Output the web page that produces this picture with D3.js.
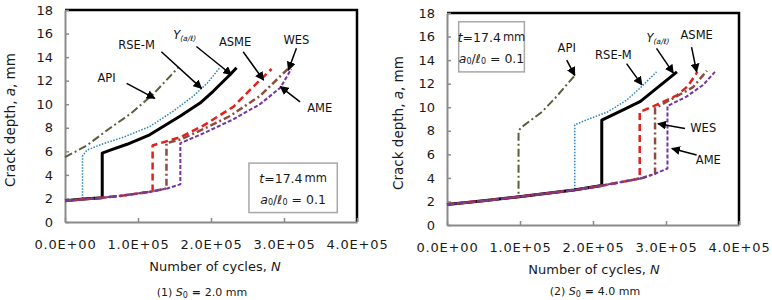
<html>
<script src="https://d3js.org/d3.v7.min.js"></script>
<body style="margin:0;background:#fff">
</body>
<script>
// axis ticks
const xTicks = [0, 1e5, 2e5, 3e5, 4e5];
const xTickLabels = ["0.0E+00", "1.0E+05", "2.0E+05", "3.0E+05", "4.0E+05"];
const yTicks = [0, 2, 4, 6, 8, 10, 12, 14, 16, 18];

const seriesNames = ["API", "RSE-M", "Y", "ASME", "WES", "AME"];

// (1) S0 = 2.0 mm  -- [N, a]
const left_API  = [[0, 5.5], [0.3e5, 6.5], [0.6e5, 7.9], [0.9e5, 9.2], [1.2e5, 10.8], [1.55e5, 13.1]];
const left_RSEM = [[0, 1.8], [0.24e5, 1.95], [0.24e5, 5.6], [0.3e5, 6.1], [0.5e5, 6.6], [0.8e5, 7.2], [1.16e5, 8.1], [1.48e5, 9.4], [1.76e5, 10.7], [1.95e5, 11.8], [2.12e5, 13.1]];
const left_Y    = [[0, 1.8], [0.25e5, 1.95], [0.51e5, 2.05], [0.51e5, 5.85], [0.62e5, 6.1], [0.85e5, 6.6], [1.16e5, 7.4], [1.58e5, 9.0], [1.85e5, 10.1], [2.03e5, 11.1], [2.26e5, 12.5], [2.35e5, 13.1]];
const left_ASME = [[0, 1.8], [0.5e5, 2.05], [0.8e5, 2.25], [1.2e5, 2.6], [1.2e5, 6.5], [1.58e5, 7.2], [1.9e5, 8.2], [2.31e5, 9.8], [2.58e5, 11.5], [2.83e5, 13.0]];
const left_WES  = [[0, 1.8], [0.5e5, 2.05], [0.8e5, 2.25], [1.2e5, 2.6], [1.39e5, 2.85], [1.39e5, 6.7], [1.58e5, 7.0], [1.9e5, 7.9], [2.26e5, 9.0], [2.67e5, 10.7], [3.07e5, 13.1]];
const left_AME  = [[0, 1.8], [0.5e5, 2.05], [0.8e5, 2.25], [1.2e5, 2.6], [1.4e5, 2.85], [1.58e5, 3.2], [1.58e5, 6.7], [1.85e5, 7.4], [2.3e5, 8.7], [2.67e5, 10.0], [2.95e5, 11.4], [3.1e5, 13.0]];

// (2) S0 = 4.0 mm
const right_API  = [[0, 1.75], [0.5e5, 2.05], [0.98e5, 2.4], [0.98e5, 8.0], [1.02e5, 8.3], [1.3e5, 9.6], [1.5e5, 10.9], [1.75e5, 12.7]];
const right_RSEM = [[0, 1.75], [0.5e5, 2.05], [0.99e5, 2.4], [1.4e5, 2.7], [1.75e5, 3.0], [1.75e5, 8.5], [1.9e5, 8.9], [2.2e5, 9.6], [2.46e5, 10.6], [2.64e5, 11.6], [2.87e5, 13.0]];
const right_Y    = [[0, 1.75], [0.5e5, 2.05], [0.99e5, 2.4], [1.74e5, 2.97], [2.12e5, 3.35], [2.12e5, 8.9], [2.42e5, 9.8], [2.65e5, 10.5], [2.87e5, 11.6], [3.15e5, 13.0]];
const right_ASME = [[0, 1.75], [0.5e5, 2.05], [0.99e5, 2.4], [1.74e5, 2.97], [2.13e5, 3.35], [2.64e5, 3.95], [2.64e5, 9.6], [2.87e5, 10.2], [3.15e5, 11.0], [3.3e5, 11.8], [3.43e5, 13.0]];
const right_WES  = [[0, 1.75], [0.5e5, 2.05], [0.99e5, 2.4], [1.74e5, 2.97], [2.13e5, 3.35], [2.66e5, 3.96], [2.85e5, 4.35], [2.85e5, 9.9], [3.05e5, 10.6], [3.37e5, 11.7], [3.56e5, 13.1]];
const right_AME  = [[0, 1.75], [0.5e5, 2.05], [0.99e5, 2.4], [1.74e5, 2.97], [2.13e5, 3.35], [2.66e5, 3.96], [2.85e5, 4.35], [3.02e5, 4.8], [3.02e5, 10.1], [3.28e5, 10.9], [3.51e5, 11.9], [3.67e5, 13.0]];

// label position [N, a], arrow from [N, a] to [N, a]
const left_labels = [
  ["API",   [0.57e5, 12.2], [0.845e5, 11.77], [1.23e5, 10.5]],
  ["RSE-M", [0.98e5, 15.0], [1.32e5, 14.45], [1.87e5, 11.35]],
  ["Y",     [1.64e5, 15.9], [1.8e5, 14.9], [2.28e5, 12.5]],
  ["ASME",  [2.33e5, 15.3], [2.44e5, 14.45], [2.72e5, 12.05]],
  ["WES",   [3.17e5, 15.45], [3.17e5, 14.75], [3.06e5, 12.9]],
  ["AME",   [3.49e5, 9.65], [3.22e5, 10.2], [2.95e5, 11.5]]
];
const right_labels = [
  ["API",   [1.64e5, 15.0], [1.64e5, 14.0], [1.75e5, 12.7]],
  ["RSE-M", [2.28e5, 14.4], [2.46e5, 13.7], [2.67e5, 11.9]],
  ["Y",     [2.89e5, 15.85], [2.87e5, 15.0], [3.1e5, 12.9]],
  ["ASME",  [3.42e5, 16.1], [3.35e5, 15.1], [3.42e5, 13.0]],
  ["WES",   [3.51e5, 8.2], [3.26e5, 8.2], [2.89e5, 8.6]],
  ["AME",   [3.58e5, 5.5], [3.42e5, 5.95], [3.08e5, 6.5]]
];
// info box corners [N, a]
const left_box = [[2.52e5, 5.0], [3.73e5, 0.8]];
const right_box = [[0.16e5, 17.26], [1.06e5, 13.0]];

const styles = {
  "API":   {color: "#5b5e3a", width: 2,   dash: "8,3,2,3"},
  "RSE-M": {color: "#2b83bd", width: 1.5, dash: "1.5,1.5"},
  "Y":     {color: "#000000", width: 3,   dash: null},
  "ASME":  {color: "#e3201c", width: 2.5, dash: "7,4"},
  "WES":   {color: "#8e4c3e", width: 2.5, dash: "7,3,2,3"},
  "AME":   {color: "#7434a4", width: 2,   dash: "4,2"}
};

const font = "'DejaVu Sans', Verdana, sans-serif";

let svg = d3.select("body").append("svg")
  .attr("width", 772)
  .attr("height", 300);

svg.append("defs").append("marker")
  .attr("id", "arrow")
  .attr("viewBox", "0 0 10 10")
  .attr("refX", 9).attr("refY", 5)
  .attr("markerWidth", 6).attr("markerHeight", 6)
  .attr("orient", "auto")
  .append("path")
  .attr("d", "M0,0L10,5L0,10z")
  .attr("fill", "#000");

function drawChart(cfg) {
  let g = svg.append("g");
  let x = d3.scaleLinear().domain([0, 4e5]).range([cfg.left, cfg.right]);
  let y = d3.scaleLinear().domain([0, 18]).range([cfg.bottom, cfg.top]);

  // top and right border
  g.append("path")
    .attr("d", `M${cfg.left},${cfg.top}H${cfg.right}V${cfg.bottom}`)
    .attr("fill", "none").attr("stroke", "#000").attr("stroke-width", 2.5);

  let yAxis = g.append("g")
    .attr("transform", `translate(${cfg.left},0)`)
    .call(d3.axisLeft(y).tickValues(yTicks).tickSizeInner(-4).tickSizeOuter(0).tickPadding(12));
  let xAxis = g.append("g")
    .attr("transform", `translate(0,${cfg.bottom})`)
    .call(d3.axisBottom(x).tickValues(xTicks).tickSizeInner(-4).tickSizeOuter(0).tickPadding(cfg.xpad)
      .tickFormat((d, i) => xTickLabels[i]));
  [yAxis, xAxis].forEach(a => {
    a.select(".domain").attr("stroke", "#8a8a8a").attr("stroke-width", 2);
    a.selectAll(".tick line").attr("stroke", "#8a8a8a").attr("stroke-width", 1.5);
    a.selectAll("text").attr("font-family", font).attr("font-size", 13).attr("fill", "#1a1a1a");
  });
  xAxis.selectAll("text").attr("letter-spacing", 0.8);

  // axis titles
  let yt = g.append("text")
    .attr("transform", `translate(${cfg.ytitleX},${(cfg.top + cfg.bottom) / 2 + 4}) rotate(-90)`)
    .attr("text-anchor", "middle").attr("dominant-baseline", "central")
    .attr("font-family", font).attr("font-size", 13.5).attr("fill", "#1a1a1a");
  yt.append("tspan").text("Crack depth, ");
  yt.append("tspan").attr("font-style", "italic").text("a");
  yt.append("tspan").text(", mm");

  let xt = g.append("text")
    .attr("x", cfg.xtitleX).attr("y", cfg.bottom + 49)
    .attr("text-anchor", "middle")
    .attr("font-family", font).attr("font-size", 13).attr("fill", "#1a1a1a");
  xt.append("tspan").text("Number of cycles, ");
  xt.append("tspan").attr("font-style", "italic").text("N");

  let cap = g.append("text")
    .attr("x", cfg.capX).attr("y", cfg.capY)
    .attr("text-anchor", "middle")
    .attr("font-family", font).attr("font-size", 11).attr("fill", "#1a1a1a");
  cap.append("tspan").text(cfg.capNum + " ");
  cap.append("tspan").attr("font-style", "italic").text("S");
  cap.append("tspan").attr("font-size", 8).attr("dy", 2).text("0");
  cap.append("tspan").attr("dy", -2).attr("font-weight", "bold").text(" = ");
  cap.append("tspan").text(cfg.capVal);

  // info box
  let bx0 = x(cfg.box[0][0]), by0 = y(cfg.box[0][1]);
  let bx1 = x(cfg.box[1][0]), by1 = y(cfg.box[1][1]);
  g.append("rect")
    .attr("x", bx0).attr("y", by0)
    .attr("width", bx1 - bx0).attr("height", by1 - by0)
    .attr("fill", "#fff").attr("stroke", "#a8a8a8").attr("stroke-width", 1.5);
  let bc = (bx0 + bx1) / 2;
  let t1 = g.append("text").attr("x", bc).attr("y", by0 + (by1 - by0) * 0.3)
    .attr("text-anchor", "middle").attr("dominant-baseline", "central")
    .attr("font-family", font).attr("font-size", 12.5).attr("fill", "#1a1a1a");
  t1.append("tspan").attr("font-style", "italic").text("t");
  t1.append("tspan").text("=17.4");
  t1.append("tspan").attr("font-size", 11.5).attr("dx", 2).text("mm");
  let t2 = g.append("text").attr("x", bc).attr("y", by0 + (by1 - by0) * 0.72)
    .attr("text-anchor", "middle").attr("dominant-baseline", "central")
    .attr("font-family", font).attr("font-size", 12.5).attr("fill", "#1a1a1a");
  t2.append("tspan").attr("font-style", "italic").text("a");
  t2.append("tspan").attr("font-size", 8).attr("dy", 3).text("0");
  t2.append("tspan").attr("dy", -3).text("/");
  t2.append("tspan").attr("font-style", "italic").text("ℓ");
  t2.append("tspan").attr("font-size", 8).attr("dy", 3).text("0");
  t2.append("tspan").attr("dy", -3).text(" = 0.1");

  // series
  let line = d3.line().x(d => x(d[0])).y(d => y(d[1]));
  cfg.series.forEach((data, i) => {
    let st = styles[seriesNames[i]];
    g.append("path")
      .datum(data)
      .attr("d", line)
      .attr("fill", "none")
      .attr("stroke", st.color)
      .attr("stroke-width", st.width)
      .attr("stroke-dasharray", st.dash)
      .attr("stroke-linejoin", "round");
  });

  // annotations
  cfg.labels.forEach(l => {
    g.append("line")
      .attr("x1", x(l[2][0])).attr("y1", y(l[2][1]))
      .attr("x2", x(l[3][0])).attr("y2", y(l[3][1]))
      .attr("stroke", "#000").attr("stroke-width", 1.5)
      .attr("marker-end", "url(#arrow)");
    let t = g.append("text")
      .attr("x", x(l[1][0])).attr("y", y(l[1][1]))
      .attr("text-anchor", "middle").attr("dominant-baseline", "central")
      .attr("font-family", font).attr("font-size", 11.5).attr("fill", "#111");
    if (l[0] === "Y") {
      t.append("tspan").attr("font-style", "italic").text("Y");
      t.append("tspan").attr("font-style", "italic").attr("font-size", 7.5).attr("dy", 3).text("(a/ℓ)");
    } else {
      t.text(l[0]);
    }
  });
}

drawChart({
  left: 65, right: 357, top: 10, bottom: 222, xpad: 18,
  ytitleX: 10, xtitleX: 215, capX: 202, capY: 296, capNum: "(1)", capVal: "2.0 mm",
  series: [left_API, left_RSEM, left_Y, left_ASME, left_WES, left_AME],
  labels: left_labels, box: left_box
});
drawChart({
  left: 447, right: 739, top: 13, bottom: 225, xpad: 18,
  ytitleX: 398, xtitleX: 594, capX: 595, capY: 295, capNum: "(2)", capVal: "4.0 mm",
  series: [right_API, right_RSEM, right_Y, right_ASME, right_WES, right_AME],
  labels: right_labels, box: right_box
});
</script>
</html>
